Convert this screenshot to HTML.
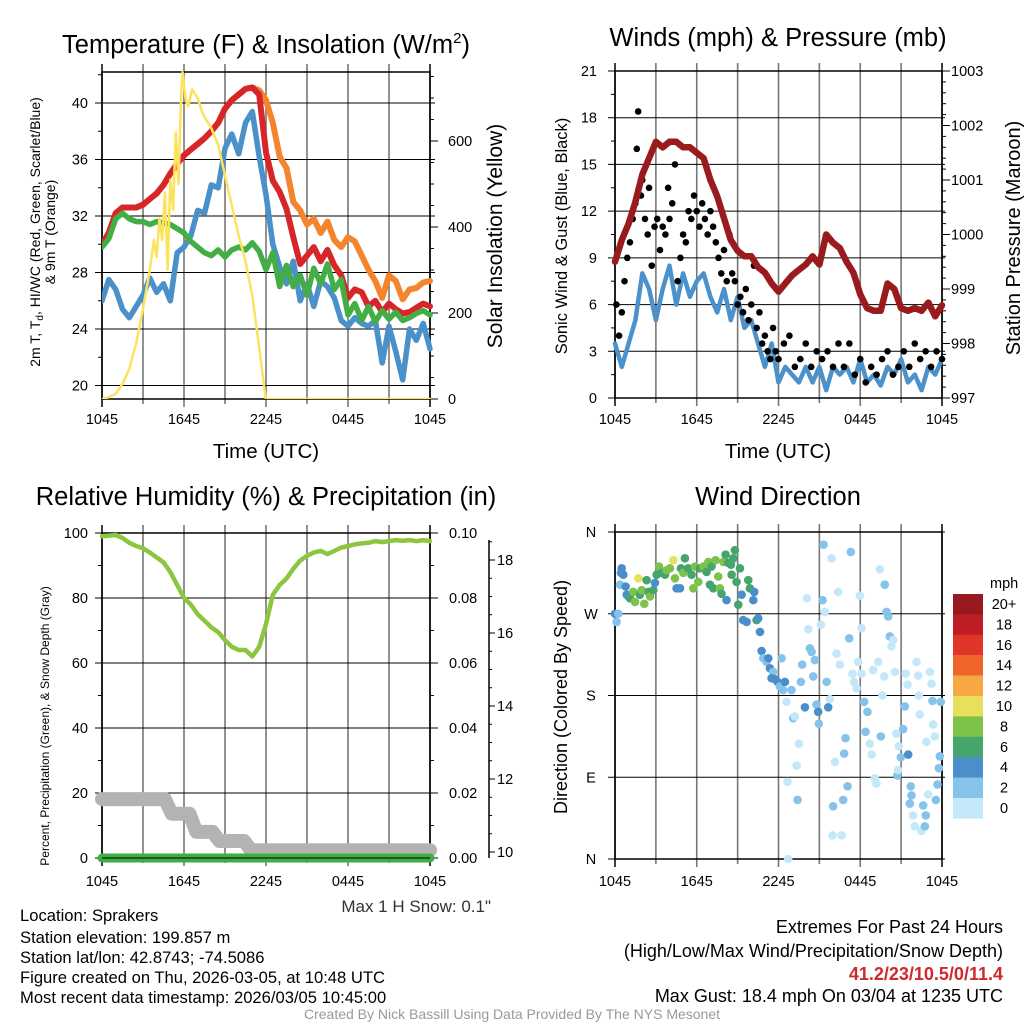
<!DOCTYPE html>
<html><head><meta charset="utf-8"><style>
html,body{margin:0;padding:0;background:#fff;}
svg{display:block;font-family:"Liberation Sans",Arial,sans-serif;}
</style></head><body>
<svg id="s" width="1024" height="1024" viewBox="0 0 1024 1024" xmlns="http://www.w3.org/2000/svg">
<rect width="1024" height="1024" fill="#fff"/>
<text x="266" y="53" font-size="25.5" text-anchor="middle">Temperature (F) &amp; Insolation (W/m<tspan font-size="15" dy="-10">2</tspan><tspan dy="10">)</tspan></text>
<text x="778" y="46" font-size="25.5" text-anchor="middle">Winds (mph) &amp; Pressure (mb)</text>
<text x="266" y="505" font-size="25.5" text-anchor="middle">Relative Humidity (%) &amp; Precipitation (in)</text>
<text x="778" y="505" font-size="25.5" text-anchor="middle">Wind Direction</text>
<g id="layer"></g>
<g font-size="16.6">
<text x="20" y="921">Location: Sprakers</text>
<text x="20" y="943">Station elevation: 199.857 m</text>
<text x="20" y="963">Station lat/lon: 42.8743; -74.5086</text>
<text x="20" y="983">Figure created on Thu, 2026-03-05, at 10:48 UTC</text>
<text x="20" y="1003">Most recent data timestamp: 2026/03/05 10:45:00</text>
</g>
<text x="491" y="912" font-size="17" text-anchor="end" fill="#333">Max 1 H Snow: 0.1"</text>
<g font-size="18" text-anchor="end">
<text x="1003" y="933">Extremes For Past 24 Hours</text>
<text x="1003" y="957">(High/Low/Max Wind/Precipitation/Snow Depth)</text>
<text x="1003" y="980" fill="#d0282c" font-weight="bold">41.2/23/10.5/0/11.4</text>
<text x="1003" y="1002">Max Gust: 18.4 mph On 03/04 at 1235 UTC</text>
</g>
<text x="512" y="1019" font-size="14" text-anchor="middle" fill="#999">Created By Nick Bassill Using Data Provided By The NYS Mesonet</text>
</svg>
<script>
// ---------- DATA ----------
const halfHours = [0,0.5,1,1.5,2,2.5,3,3.5,4,4.5,5,5.5,6,6.5,7,7.5,8,8.5,9,9.5,10,10.5,11,11.5,12,12.5,13,13.5,14,14.5,15,15.5,16,16.5,17,17.5,18,18.5,19,19.5,20,20.5,21,21.5,22,22.5,23,23.5,24];
const xTickLabels = ["1045","1645","2245","0445","1045"];
const tempTicks = [20,24,28,32,36,40];
const solarTicks = [0,200,400,600];
const temp2m = [30,30.8,32.2,32.6,32.6,32.6,32.8,33.2,33.6,34.2,35,35.7,36.3,36.7,37.1,37.5,38,38.6,39.6,40.2,40.6,41,41.1,40.6,36.5,34.5,33.7,32.5,30.5,28.6,29.2,29.8,28.8,29.6,28.5,27.8,26.2,26.8,26.6,25.6,26,25.2,25.8,25.4,25.1,25.2,25.5,25.8,25.6];
const temp9m = [30,30.8,32.2,32.6,32.6,32.6,32.8,33.2,33.6,34.2,35,35.7,36.3,36.7,37.1,37.5,38,38.6,39.6,40.2,40.6,41,41.1,40.9,40.2,38.6,36.2,35.4,33,32.4,31.4,31.8,30.8,31.6,30.3,29.8,30.5,30.2,29.2,28.2,27.4,26.2,27.8,27.4,26.1,26.8,26.9,27.3,27.4];
const dewpoint = [29.8,30.4,31.8,32.2,31.8,31.6,31.6,31.4,31.6,31.5,31.4,31.1,30.8,30.2,29.8,29.4,29.2,29.6,29.1,29.6,29.8,29.6,30.1,29.5,28.2,29.4,27,28.5,27,27.8,26.4,28.3,27.2,28.6,26.8,27.5,25,25.8,24.6,25.6,24.5,25.3,24.7,25.2,24.6,24.8,25.1,25.3,25];
const windChill = [26,27.5,26.8,25.4,24.8,25.6,26.4,27.6,26.6,27.2,26,29.4,29.8,30.6,32.4,32.2,34.2,34,36.8,37.8,36.4,38.6,39.4,36.2,33.5,30,28.4,27.2,28.8,26,27.2,25.6,27.4,27,26.2,24.6,24.2,24.8,24.4,24.2,24.6,21.6,24.2,22.4,20.4,24,23.2,24.4,22.6];
const solarHours = [0,0.5,1,1.5,2,2.5,3,3.5,3.8,4,4.2,4.4,4.6,4.8,5,5.2,5.4,5.6,5.8,5.9,6.1,6.3,6.6,7,7.3,7.6,8,8.5,9,9.5,10,10.5,11,11.5,11.9,12,24];
const solarValues = [0,4,12,35,70,130,210,300,370,330,420,370,480,300,510,440,620,500,720,760,700,680,720,700,670,650,630,590,520,450,380,320,240,120,20,0,0];

const windTicks = [0,3,6,9,12,15,18,21];
const pressTicks = [997,998,999,1000,1001,1002,1003];
const sustainedWind = [3.5,2,3.5,5,8,7,5,7,8.5,6,8,6.5,7.5,8,6.5,5.5,7,5,6.5,4.5,5,3.5,2,3.5,1,2,1.5,1,2,1,2,0.5,2,1.5,2,1,2.5,1,1.5,0.8,2,1.5,2.5,1,1.5,0.5,2,1.5,2.5];
const pressure = [999.5,999.9,1000.2,1000.6,1001.1,1001.4,1001.7,1001.6,1001.7,1001.7,1001.6,1001.6,1001.5,1001.4,1001.0,1000.7,1000.3,999.9,999.7,999.6,999.6,999.4,999.3,999.1,998.95,999.1,999.25,999.35,999.45,999.6,999.45,1000.0,999.85,999.75,999.5,999.3,998.9,998.65,998.6,998.6,999.1,999.0,998.65,998.6,998.65,998.6,998.75,998.5,998.7];
const gustHours = [0.1,0.3,0.5,0.7,0.9,1.1,1.3,1.5,1.6,1.7,1.9,2.0,2.2,2.4,2.5,2.7,2.9,3.1,3.3,3.5,3.7,3.9,4.0,4.2,4.4,4.6,4.8,5.0,5.2,5.4,5.6,5.8,6.0,6.2,6.4,6.6,6.8,7.0,7.2,7.4,7.6,7.8,8.0,8.2,8.4,8.6,8.8,9.0,9.2,9.4,9.6,9.8,10.0,10.2,10.4,10.6,10.8,11.0,11.2,11.4,11.6,11.8,12.0,12.4,12.8,13.2,13.6,14.0,14.4,14.8,15.2,15.6,16.0,16.4,16.8,17.2,17.6,18.0,18.4,18.8,19.2,19.6,20.0,20.4,20.8,21.2,21.6,22.0,22.4,22.8,23.2,23.6,24];
const gustValues = [6,4,5.5,7.5,9,10,11.5,12.5,16,18.4,13,14,11.5,10.5,13.5,8.5,11,11.5,9.5,11,10.5,13.5,11.5,12.5,15,7.5,9,10.5,10,12,11.5,13,12,11,12.5,11.5,10.5,12,11,10,9,8,9.5,7.5,10.5,8,7.5,6,6.5,5.5,7,5,6,8.5,4.5,5.5,3.5,4,3,2.5,4.5,3,2.5,3.5,4,2,2.5,3.5,2,3,2.5,3,2,3.5,2,3.5,1.5,2.5,1,2,1.5,2.5,3,1.5,2,3,2,3.5,2.5,3,2,3,2.5];

const rhTicks = [0,20,40,60,80,100];
const precipTicks = ["0.00","0.02","0.04","0.06","0.08","0.10"];
const snowTicks = [10,12,14,16,18];
const relHumidity = [99,99.2,99.4,98.5,97,96,95.3,94,92.5,91,88,84,80,78,75,73,71,69.5,67,65,64,64,62,65,72,81,84,86,89,91.5,93,94,94.5,93.5,94.5,95.5,96,96.5,96.8,97,97.5,97.2,97.5,97.8,97.6,97.8,97.5,97.8,97.5];
const precipHours = [0,6,12,18,24];
const precipValues = [0,0,0,0,0];
const snowHours = [0,4.6,5.1,6.4,6.9,8.1,8.6,10.4,10.9,24];
const snowDepth = [11.45,11.45,11.05,11.05,10.55,10.55,10.3,10.3,10.05,10.05];

const dirTickLabels = ["N","E","S","W","N"];
const dirHours = [0,0.24,0.12,0.49,0.61,0.44,0.37,0.78,0.86,0.98,1.1,1.34,1.47,1.71,1.83,1.96,2.15,2.32,2.45,2.57,2.81,2.93,3.06,3.23,3.42,3.67,3.79,4.03,4.28,4.4,4.52,4.77,4.84,5.01,5.13,5.38,5.62,5.75,5.87,6.11,6.23,6.48,6.72,6.85,6.97,7.09,7.21,7.38,7.58,7.7,7.82,7.95,8.12,8.19,8.31,8.51,8.56,8.68,8.8,8.92,9.05,9.17,9.29,9.41,9.66,9.78,9.9,10.15,10.22,10.39,10.51,10.64,10.76,10.88,11.12,11.25,11.37,11.61,11.49,11.74,11.93,12.1,12.23,12.35,12.47,12.59,12.71,12.66,12.96,13.08,13.2,13.33,13.4,13.5,13.64,13.74,13.94,14.08,14.18,14.3,14.43,14.55,14.67,14.79,14.91,14.96,15.11,15.23,15.31,15.4,15.53,15.65,15.77,15.89,16.01,16.14,15.97,16.26,16.38,16.5,16.63,16.75,16.82,16.92,17.07,17.19,17.31,17.43,17.55,17.73,17.85,17.97,18.09,18.09,18.29,18.39,18.53,18.7,18.83,18.95,19.07,19.19,19.32,19.44,19.51,19.63,19.76,19.8,19.93,20.05,20.17,20.29,20.42,20.54,20.66,20.73,20.78,20.83,20.98,21.15,21.27,21.34,21.47,21.52,21.71,21.76,21.64,21.88,22.0,22.13,22.25,22.3,22.37,22.49,22.62,22.74,22.81,22.86,22.98,23.11,23.23,23.3,23.35,23.47,23.55,23.67,23.77,23.84,23.91];
const dirDegrees = [270,270,261,320,313,315,302,300,291,289,287,294,283,309,291,296,281,307,294,289,296,304,313,322,315,313,318,320,329,309,298,298,320,315,331,320,313,298,322,305,320,322,316,327,302,322,298,329,311,298,292,327,335,285,326,324,313,331,340,305,280,320,291,263,261,307,298,285,294,263,265,250,229,221,217,221,210,206,199,198,195,190,221,186,195,173,0,85,186,155,157,103,65,127,195,214,167,287,253,232,228,201,219,170,162,149,258,285,346,272,195,167,176,331,58,107,26,226,294,214,26,65,116,133,80,243,338,204,195,188,217,290,254,204,173,140,162,127,115,208,89,83,217,319,135,180,201,302,272,267,245,234,241,206,138,92,98,124,112,143,168,204,192,115,80,70,61,48,36,217,202,180,159,31,59,36,48,129,71,206,193,174,148,135,65,82,100,113,173];
const dirSpeeds = [4,3,3,4,4,4,3,4,4,5,6,8,8,10,7,8,8,7,6,8,6,5,6,8,7,6,8,8,10,8,4,5,6,8,6,7,6,8,8,8,7,8,7,8,6,7,6,8,8,8,6,8,6,4,7,6,6,6,6,6,6,6,4,4,4,6,6,4,4,6,4,4,4,3,3,4,4,3,4,4,4,3,2,3,4,1,0,1,3,2,1,1,3,1,3,3,4,1,1,3,3,3,3,3,4,3,1,3,3,1,3,4,1,1,3,1,1,1,1,1,1,3,3,3,3,3,3,1,1,1,1,1,1,1,3,3,3,1,1,1,1,1,1,1,3,1,1,3,3,3,3,1,1,1,1,3,1,1,3,3,3,1,1,4,3,3,3,1,1,1,1,1,1,1,3,3,3,1,1,1,1,3,1,1,3,3,3,3,3];
const speedBins = ["0","2","4","6","8","10","12","14","16","18","20+"];
const speedColors = ["#c4e8f9","#86c3ea","#4a8fc9","#45a56c","#7dc34a","#e8e05a","#f8a745","#f1652b","#e03529","#c01e25","#961a1e"];

// ---------- DRAWING ----------
const NS='http://www.w3.org/2000/svg';
const layer=document.getElementById('layer');
function mk(tag, attrs, parent){const e=document.createElementNS(NS,tag);for(const k in attrs)e.setAttribute(k,attrs[k]);(parent||layer).appendChild(e);return e;}
function lin(d0,d1,r0,r1){return v=>r0+(v-d0)*(r1-r0)/(d1-d0);}
function pathD(xs,ys,fx,fy){return xs.map((h,i)=>(i?'L':'M')+fx(h).toFixed(1)+' '+fy(ys[i]).toFixed(1)).join(' ');}

function frame(g,L,R,T,B,xl,labY){
  const fx=lin(0,24,L,R);
  for(let h=0;h<=24;h+=3){const x=fx(h);
    const ln=mk('line',{x1:x,y1:T-8,x2:x,y2:B+(h%6===0?8:5),stroke:h===0||h===24?'#000':'#777','stroke-width':h===0||h===24?1.5:1.6},g);
    }
  xl.forEach((t,i)=>{const e=mk('text',{x:fx(i*6),y:labY,'font-size':14.5,'text-anchor':'middle'},g);e.textContent=t;
    });
  return fx;
}

// Panel 1: temperature
(function(){
  const g=mk('g',{});
  const L=102,R=430,T=72,B=399;
  const fy=lin(20,40,385.5,103), fs=lin(0,600,399,141);
  const fx=frame(g,L,R,T,B,xTickLabels,424);
  for(let v=20;v<=42;v+=2){const y=fy(v);if(y<T)continue;
    if(v%4===0){const l=mk('line',{x1:L-7,y1:y,x2:R+5,y2:y,stroke:'#000','stroke-width':1},g);}
    else mk('line',{x1:L-4,y1:y,x2:L,y2:y,stroke:'#000'},g);}
  tempTicks.forEach(v=>{const e=mk('text',{x:88,y:fy(v)+5,'font-size':14.5,'text-anchor':'end'},g);e.textContent=v;});
  for(let v=0;v<=750;v+=50){const y=fs(v);if(y<T)break;mk('line',{x1:R,y1:y,x2:R+(v%200===0?8:4),y2:y,stroke:'#000'},g);}
  solarTicks.forEach(v=>{const e=mk('text',{x:448,y:fs(v)+5,'font-size':14.5},g);e.textContent=v;});
  mk('rect',{x:L,y:T,width:R-L,height:B-T,fill:'none',stroke:'#000','stroke-width':1.5},g);
  const cl=mk('clipPath',{id:'c1'},g);mk('rect',{x:L,y:T-12,width:R-L+3,height:B-T+12},cl);
  const pg=mk('g',{'clip-path':'url(#c1)','stroke-linejoin':'round','stroke-linecap':'round',fill:'none'},g);
  const series=[[solarHours,solarValues,'#fde35c',2.5,'solar-insolation-line',fs],[halfHours,windChill,'#4a90c9',5.5,'wind-chill-line',fy],[halfHours,temp9m,'#f5842e',6,'temp-9m-line',fy],[halfHours,temp2m,'#d7262a',6,'temp-2m-line',fy],[halfHours,dewpoint,'#43ae43',5.5,'dewpoint-line',fy]];
  const order=[1,2,3,4,0];
  order.forEach(i=>{const s=series[i];const p=mk('path',{d:pathD(s[0],s[1],fx,s[5]),stroke:s[2],'stroke-width':s[3]},pg);
    });
  let e=mk('text',{x:266,y:458,'font-size':20.5,'text-anchor':'middle'},g);e.textContent='Time (UTC)';
  
  e=mk('text',{transform:'translate(502,236) rotate(-90)','font-size':21,'text-anchor':'middle'},g);e.textContent='Solar Insolation (Yellow)';
  
  e=mk('text',{transform:'translate(40,232) rotate(-90)','font-size':14,'text-anchor':'middle'},g);
  e.innerHTML='2m T, T<tspan font-size="10" dy="3">d</tspan><tspan dy="-3">, HI/WC (Red, Green, Scarlet/Blue)</tspan>';
  
  e=mk('text',{transform:'translate(55,232) rotate(-90)','font-size':14,'text-anchor':'middle'},g);e.textContent='& 9m T (Orange)';
  
})();

// Panel 2: winds
(function(){
  const g=mk('g',{});
  const L=615,R=942,T=71,B=398;
  const fy=lin(0,21,B,T), fp=lin(997,1003,B,T);
  const fx=frame(g,L,R,T,B,xTickLabels,424);
  for(let v=0;v<=21;v+=1.5){const y=fy(v);
    if(v%3===0){const l=mk('line',{x1:L-7,y1:y,x2:R+3,y2:y,stroke:'#000'},g);}
    else mk('line',{x1:L-4,y1:y,x2:L,y2:y,stroke:'#000'},g);}
  windTicks.forEach(v=>{const e=mk('text',{x:597,y:fy(v)+5,'font-size':14.5,'text-anchor':'end'},g);e.textContent=v;});
  for(let v=997;v<=1003.01;v+=0.2){const y=fp(v);mk('line',{x1:R,y1:y,x2:R+(Math.abs(v-Math.round(v))<0.01?8:4),y2:y,stroke:'#000'},g);}
  pressTicks.forEach(v=>{const e=mk('text',{x:951,y:fp(v)+5,'font-size':14.5},g);e.textContent=v;});
  mk('rect',{x:L,y:T,width:R-L,height:B-T,fill:'none',stroke:'#000','stroke-width':1.5},g);
  const pg=mk('g',{'stroke-linejoin':'round','stroke-linecap':'round',fill:'none'},g);
  let p=mk('path',{d:pathD(halfHours,sustainedWind,fx,fy),stroke:'#4b92cc','stroke-width':4.5},pg);
  
  gustHours.forEach((h,i)=>{const c=mk('circle',{cx:fx(h),cy:fy(gustValues[i]),r:3.3,fill:'#000'},g);
    });
  p=mk('path',{d:pathD(halfHours,pressure,fx,fp),stroke:'#9a1b1e','stroke-width':6.5,fill:'none','stroke-linejoin':'round','stroke-linecap':'round'},g);
  
  let e=mk('text',{x:778,y:458,'font-size':20.5,'text-anchor':'middle'},g);e.textContent='Time (UTC)';
  
  e=mk('text',{transform:'translate(567,236) rotate(-90)','font-size':16.5,'text-anchor':'middle'},g);e.textContent='Sonic Wind & Gust (Blue, Black)';
  
  e=mk('text',{transform:'translate(1020,238) rotate(-90)','font-size':20,'text-anchor':'middle'},g);e.textContent='Station Pressure (Maroon)';
  
})();

// Panel 3: RH
(function(){
  const g=mk('g',{});
  const L=102,R=430,T=533,B=858;
  const fy=lin(0,100,B,T), fsn=lin(10,18,852,560);
  const fx=frame(g,L,R,T,B,xTickLabels,886);
  for(let v=0;v<=100;v+=10){const y=fy(v);
    if(v%20===0){const l=mk('line',{x1:L-7,y1:y,x2:R+8,y2:y,stroke:'#000'},g);}
    else {mk('line',{x1:L-4,y1:y,x2:L,y2:y,stroke:'#000'},g);mk('line',{x1:R,y1:y,x2:R+4,y2:y,stroke:'#000'},g);}}
  rhTicks.forEach(v=>{const e=mk('text',{x:88,y:fy(v)+5,'font-size':14.5,'text-anchor':'end'},g);e.textContent=v;});
  precipTicks.forEach((v,i)=>{const e=mk('text',{x:449,y:fy(i*20)+5,'font-size':14.5},g);e.textContent=v;});
  mk('line',{x1:489,y1:540,x2:489,y2:858,stroke:'#000','stroke-width':1.5},g);
  for(let v=10;v<=18.6;v+=0.5){const y=fsn(v);mk('line',{x1:489,y1:y,x2:489+(Math.abs(v-Math.round(v))<0.01&&Math.round(v)%2===0?6:3),y2:y,stroke:'#000'},g);}
  snowTicks.forEach(v=>{const e=mk('text',{x:497,y:fsn(v)+5,'font-size':14.5},g);e.textContent=v;});
  mk('rect',{x:L,y:T,width:R-L,height:B-T,fill:'none',stroke:'#000','stroke-width':1.5},g);
  let p=mk('path',{d:pathD(snowHours,snowDepth,fx,fsn),stroke:'#b3b3b3','stroke-width':14,fill:'none','stroke-linejoin':'round','stroke-linecap':'round'},g);
  
  const fpr=lin(0,0.1,B,T);
  p=mk('path',{d:pathD(precipHours,precipValues,fx,fpr),stroke:'#3fae44','stroke-width':9,fill:'none','stroke-linecap':'round'},g);
  
  mk('line',{x1:L,y1:B,x2:R,y2:B,stroke:'#000','stroke-width':1},g);
  p=mk('path',{d:pathD(halfHours,relHumidity,fx,fy),stroke:'#8cc63f','stroke-width':4.5,fill:'none','stroke-linejoin':'round','stroke-linecap':'round'},g);
  
  let e=mk('text',{transform:'translate(49,726) rotate(-90)','font-size':12,'text-anchor':'middle'},g);e.textContent='Percent, Precipitation (Green), & Snow Depth (Gray)';
  
})();

// Panel 4: wind direction
(function(){
  const g=mk('g',{});
  const L=615,R=942,T=532,B=859;
  const fy=lin(0,360,B,T);
  const fx=frame(g,L,R,T,B,xTickLabels,886);
  dirTickLabels.forEach((t,i)=>{const y=fy(i*90);
    const l=mk('line',{x1:L-7,y1:y,x2:R+3,y2:y,stroke:'#000'},g);
    const e=mk('text',{x:591,y:y+5,'font-size':14.5,'text-anchor':'middle'},g);e.textContent=t;});
  mk('rect',{x:L,y:T,width:R-L,height:B-T,fill:'none',stroke:'#000','stroke-width':1.5},g);
  dirHours.forEach((h,i)=>{const bin=Math.min(10,Math.floor(dirSpeeds[i]/2));
    const c=mk('circle',{cx:fx(h),cy:fy(dirDegrees[i]),r:4.3,fill:speedColors[bin]},g);
    });
  let e=mk('text',{transform:'translate(567,697) rotate(-90)','font-size':18,'text-anchor':'middle'},g);e.textContent='Direction (Colored By Speed)';
  
  const cb=mk('g',{},g);
  e=mk('text',{x:990,y:588,'font-size':14.5},cb);e.textContent='mph';
  speedBins.forEach((t,i)=>{const k=10-i;const y=594+i*20.4;
    const r=mk('rect',{x:953,y:y,width:30,height:20.6,fill:speedColors[k]},cb);
    
    const tx=mk('text',{x:1004,y:y+15,'font-size':14.5,'text-anchor':'middle'},cb);tx.textContent=speedBins[k];
    });
})();
</script>
</body></html>
